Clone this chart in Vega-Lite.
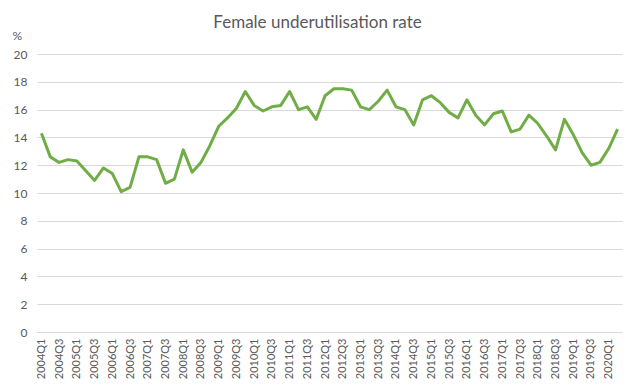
{
  "$schema": "https://vega.github.io/schema/vega-lite/v6.json",
  "autosize": "none",
  "width": 585,
  "height": 278,
  "padding": {"left": 37, "top": 54, "right": 15, "bottom": 60},
  "background": "white",
  "title": {
    "text": "Female underutilisation rate",
    "font": "Lato",
    "fontSize": 17,
    "fontWeight": "normal",
    "color": "#595959",
    "anchor": "middle",
    "baseline": "alphabetic",
    "offset": 0,
    "dy": 16,
    "dx": -12
  },
  "data": {
    "values": [
      {"q": "2004Q1", "v": 14.3}, {"q": "2004Q2", "v": 12.6}, {"q": "2004Q3", "v": 12.2}, {"q": "2004Q4", "v": 12.4},
      {"q": "2005Q1", "v": 12.3}, {"q": "2005Q2", "v": 11.6}, {"q": "2005Q3", "v": 10.9}, {"q": "2005Q4", "v": 11.8},
      {"q": "2006Q1", "v": 11.4}, {"q": "2006Q2", "v": 10.1}, {"q": "2006Q3", "v": 10.4}, {"q": "2006Q4", "v": 12.6},
      {"q": "2007Q1", "v": 12.6}, {"q": "2007Q2", "v": 12.4}, {"q": "2007Q3", "v": 10.7}, {"q": "2007Q4", "v": 11.0},
      {"q": "2008Q1", "v": 13.1}, {"q": "2008Q2", "v": 11.5}, {"q": "2008Q3", "v": 12.2}, {"q": "2008Q4", "v": 13.4},
      {"q": "2009Q1", "v": 14.8}, {"q": "2009Q2", "v": 15.4}, {"q": "2009Q3", "v": 16.1}, {"q": "2009Q4", "v": 17.3},
      {"q": "2010Q1", "v": 16.3}, {"q": "2010Q2", "v": 15.9}, {"q": "2010Q3", "v": 16.2}, {"q": "2010Q4", "v": 16.3},
      {"q": "2011Q1", "v": 17.3}, {"q": "2011Q2", "v": 16.0}, {"q": "2011Q3", "v": 16.2}, {"q": "2011Q4", "v": 15.3},
      {"q": "2012Q1", "v": 17.0}, {"q": "2012Q2", "v": 17.5}, {"q": "2012Q3", "v": 17.5}, {"q": "2012Q4", "v": 17.4},
      {"q": "2013Q1", "v": 16.2}, {"q": "2013Q2", "v": 16.0}, {"q": "2013Q3", "v": 16.6}, {"q": "2013Q4", "v": 17.4},
      {"q": "2014Q1", "v": 16.2}, {"q": "2014Q2", "v": 16.0}, {"q": "2014Q3", "v": 14.9}, {"q": "2014Q4", "v": 16.7},
      {"q": "2015Q1", "v": 17.0}, {"q": "2015Q2", "v": 16.5}, {"q": "2015Q3", "v": 15.8}, {"q": "2015Q4", "v": 15.4},
      {"q": "2016Q1", "v": 16.7}, {"q": "2016Q2", "v": 15.6}, {"q": "2016Q3", "v": 14.9}, {"q": "2016Q4", "v": 15.7},
      {"q": "2017Q1", "v": 15.9}, {"q": "2017Q2", "v": 14.4}, {"q": "2017Q3", "v": 14.6}, {"q": "2017Q4", "v": 15.6},
      {"q": "2018Q1", "v": 15.0}, {"q": "2018Q2", "v": 14.1}, {"q": "2018Q3", "v": 13.1}, {"q": "2018Q4", "v": 15.3},
      {"q": "2019Q1", "v": 14.2}, {"q": "2019Q2", "v": 12.9}, {"q": "2019Q3", "v": 12.0}, {"q": "2019Q4", "v": 12.2},
      {"q": "2020Q1", "v": 13.2}, {"q": "2020Q2", "v": 14.6}
    ]
  },
  "mark": {"type": "line", "color": "#70AD47", "strokeWidth": 3, "strokeJoin": "round"},
  "encoding": {
    "x": {
      "field": "q",
      "type": "ordinal",
      "sort": null,
      "scale": {"type": "point", "padding": 0.5},
      "axis": {
        "title": null,
        "labelAngle": -90,
        "labelAlign": "right",
        "labelBaseline": "middle",
        "labelFont": "Lato",
        "labelFontSize": 11,
        "labelColor": "#595959",
        "labelPadding": 6,
        "labelOverlap": false,
        "labelExpr": "indexof(datum.value, 'Q2') >= 0 || indexof(datum.value, 'Q4') >= 0 ? '' : datum.value",
        "ticks": false,
        "domainColor": "#d9d9d9",
        "domainWidth": 1,
        "grid": false
      }
    },
    "y": {
      "field": "v",
      "type": "quantitative",
      "scale": {"domain": [0, 20], "nice": false},
      "axis": {
        "values": [0, 2, 4, 6, 8, 10, 12, 14, 16, 18, 20],
        "title": "%",
        "titleAngle": 0,
        "titleAlign": "left",
        "titleBaseline": "alphabetic",
        "titleX": -25,
        "titleY": -15,
        "titleFont": "Lato",
        "titleFontSize": 12,
        "titleFontWeight": "normal",
        "titleColor": "#595959",
        "labelFont": "Lato",
        "labelFontSize": 12,
        "labelColor": "#595959",
        "labelPadding": 10,
        "ticks": false,
        "domain": false,
        "grid": true,
        "gridColor": "#d9d9d9",
        "gridWidth": 1
      }
    }
  },
  "config": {"view": {"stroke": null}}
}
